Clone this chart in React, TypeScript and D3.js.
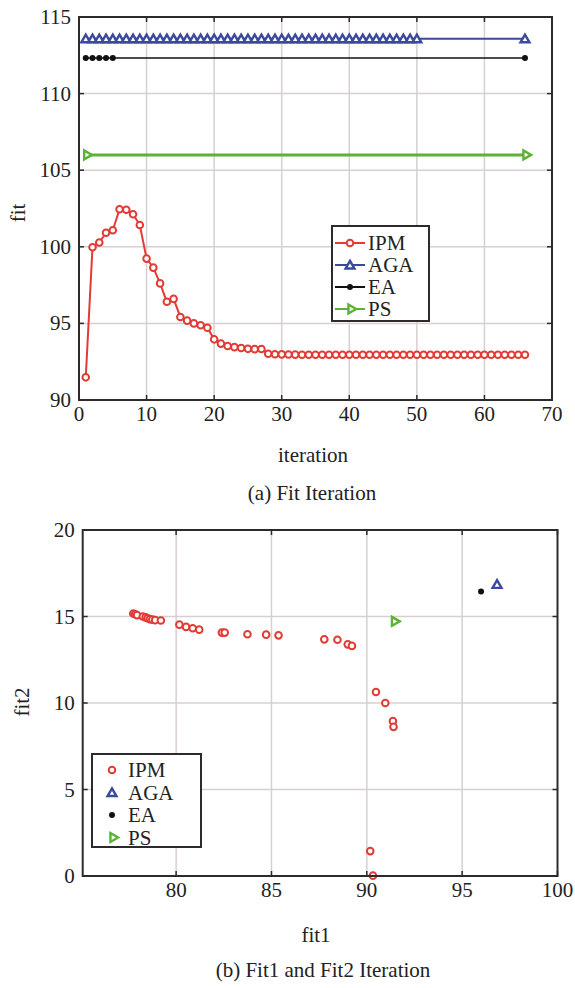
import React, { useEffect, useRef } from 'react';
import * as d3 from 'd3';

// (a) fit per iteration
const ipmFit = [
  91.48, 99.97, 100.28, 100.92, 101.08, 102.45, 102.42, 102.12, 101.42, 99.23,
  98.64, 97.61, 96.41, 96.6, 95.42, 95.18, 95.0, 94.88, 94.72, 93.96,
  93.68, 93.52, 93.45, 93.39, 93.34, 93.32, 93.33, 93.02, 92.99, 92.98,
  92.97, 92.96, 92.95, 92.95, 92.95, 92.95, 92.95, 92.95, 92.95, 92.95,
  92.95, 92.95, 92.95, 92.95, 92.95, 92.95, 92.95, 92.95, 92.95, 92.95,
  92.95, 92.95, 92.95, 92.95, 92.95, 92.95, 92.95, 92.95, 92.95, 92.95,
  92.95, 92.95, 92.95, 92.95, 92.95, 92.95
];
const agaFit = 113.58;
const eaFit = 112.32;
const psFit = 106.0;
const lastIteration = 66;
const agaMarkedUntil = 50; // AGA markers at every iteration up to here, then only the last
const eaMarkedUntil = 5;
const psMarkedUntil = 1;

const topXTicks = [0, 10, 20, 30, 40, 50, 60, 70];
const topYTicks = [90, 95, 100, 105, 110, 115];

// (b) fit1 vs fit2
const ipmFit1 = [77.75, 77.85, 77.95, 78.25, 78.4, 78.5, 78.62, 78.75, 78.9, 79.2,
  80.17, 80.52, 80.87, 81.21, 82.4, 82.55, 83.74, 84.72, 85.37, 87.77,
  88.46, 89.0, 89.22, 90.48, 90.97, 91.37, 91.4, 90.18, 90.32];
const ipmFit2 = [15.17, 15.13, 15.08, 15.0, 14.95, 14.9, 14.85, 14.82, 14.79, 14.77,
  14.53, 14.4, 14.32, 14.24, 14.07, 14.07, 13.97, 13.95, 13.91, 13.68,
  13.66, 13.39, 13.3, 10.64, 10.0, 8.95, 8.62, 1.44, 0.02];
const agaPoint = [96.83, 16.86];
const eaPoint = [95.99, 16.45];
const psPoint = [91.4, 14.72];

const botXTicks = [80, 85, 90, 95, 100];
const botYTicks = [0, 5, 10, 15, 20];

const legendNames = ['IPM', 'AGA', 'EA', 'PS'];

const RED = '#e23b35';
const BLUE = '#3b4a9c';
const BLACK = '#111';
const GREEN = '#5bb234';
const AXIS = '#2e2a2a';
const GRID = '#d8d0d0';
const FONT = '"Liberation Serif", "Times New Roman", serif';
const FS = 21;

const tri = d3.symbol().type(d3.symbolTriangle).size(34)();

export default function App() {
  const svgRef = useRef<SVGSVGElement>(null);

  useEffect(() => {
    const svg = d3.select(svgRef.current);
    svg.selectAll('*').remove();

    const drawFrame = (g, x, y, xTicks, yTicks) => {
      const [x0, x1] = x.range();
      const [y0, y1] = y.range();
      // grid
      g.selectAll('.gx').data(xTicks.filter(t => x(t) > x0 + 1 && x(t) < x1 - 1)).enter()
        .append('line').attr('x1', d => x(d)).attr('x2', d => x(d))
        .attr('y1', y0).attr('y2', y1).attr('stroke', GRID).attr('stroke-width', 1.5);
      g.selectAll('.gy').data(yTicks.filter(t => y(t) < y0 - 1 && y(t) > y1 + 1)).enter()
        .append('line').attr('y1', d => y(d)).attr('y2', d => y(d))
        .attr('x1', x0).attr('x2', x1).attr('stroke', GRID).attr('stroke-width', 1.5);
      // ticks, inside on all four sides
      xTicks.forEach(t => {
        g.append('line').attr('x1', x(t)).attr('x2', x(t)).attr('y1', y0).attr('y2', y0 - 5)
          .attr('stroke', AXIS).attr('stroke-width', 1.5);
        g.append('line').attr('x1', x(t)).attr('x2', x(t)).attr('y1', y1).attr('y2', y1 + 5)
          .attr('stroke', AXIS).attr('stroke-width', 1.5);
        g.append('text').attr('x', x(t)).attr('y', y0 + 21).attr('text-anchor', 'middle')
          .attr('font-family', FONT).attr('font-size', FS).attr('fill', '#222').text(t);
      });
      yTicks.forEach(t => {
        g.append('line').attr('x1', x0).attr('x2', x0 + 5).attr('y1', y(t)).attr('y2', y(t))
          .attr('stroke', AXIS).attr('stroke-width', 1.5);
        g.append('line').attr('x1', x1).attr('x2', x1 - 5).attr('y1', y(t)).attr('y2', y(t))
          .attr('stroke', AXIS).attr('stroke-width', 1.5);
        g.append('text').attr('x', x0 - 8).attr('y', y(t) + 7).attr('text-anchor', 'end')
          .attr('font-family', FONT).attr('font-size', FS).attr('fill', '#222').text(t);
      });
    };

    const drawBox = (g, x, y) => {
      const [x0, x1] = x.range();
      const [y0, y1] = y.range();
      g.append('rect').attr('x', x0).attr('y', y1).attr('width', x1 - x0).attr('height', y0 - y1)
        .attr('fill', 'none').attr('stroke', AXIS).attr('stroke-width', 2);
    };

    const label = (txt, x, y, rotate = false) => {
      const t = svg.append('text').attr('font-family', FONT).attr('font-size', FS)
        .attr('fill', '#222').attr('text-anchor', 'middle').text(txt);
      if (rotate) t.attr('transform', `translate(${x},${y}) rotate(-90)`);
      else t.attr('x', x).attr('y', y);
    };

    const marker = (g, name, cx, cy) => {
      if (name === 'IPM') {
        g.append('circle').attr('cx', cx).attr('cy', cy).attr('r', 3.3)
          .attr('fill', '#fff').attr('stroke', RED).attr('stroke-width', 2);
      } else if (name === 'AGA') {
        g.append('path').attr('d', tri).attr('transform', `translate(${cx},${cy + 1})`)
          .attr('fill', '#fff').attr('stroke', BLUE).attr('stroke-width', 2.4);
      } else if (name === 'EA') {
        g.append('circle').attr('cx', cx).attr('cy', cy).attr('r', 3).attr('fill', BLACK);
      } else {
        g.append('path').attr('d', tri).attr('transform', `translate(${cx + 1},${cy}) rotate(90)`)
          .attr('fill', '#fff').attr('stroke', GREEN).attr('stroke-width', 2.4);
      }
    };

    // ---------- (a) ----------
    const xA = d3.scaleLinear().domain([0, 70]).range([79, 552]);
    const yA = d3.scaleLinear().domain([90, 115]).range([400, 17]);
    const gA = svg.append('g');
    drawFrame(gA, xA, yA, topXTicks, topYTicks);

    const flat = (value, color, width, name, markedUntil) => {
      gA.append('line').attr('x1', xA(1)).attr('x2', xA(lastIteration))
        .attr('y1', yA(value)).attr('y2', yA(value)).attr('stroke', color).attr('stroke-width', width);
      const its = d3.range(1, markedUntil + 1).concat([lastIteration]);
      its.forEach(it => marker(gA, name, xA(it), yA(value)));
    };
    flat(psFit, GREEN, 3, 'PS', psMarkedUntil);
    flat(eaFit, BLACK, 1.5, 'EA', eaMarkedUntil);
    flat(agaFit, BLUE, 2, 'AGA', agaMarkedUntil);

    const line = d3.line<number>().x((d, i) => xA(i + 1)).y(d => yA(d));
    gA.append('path').datum(ipmFit).attr('d', line).attr('fill', 'none')
      .attr('stroke', RED).attr('stroke-width', 2);
    ipmFit.forEach((v, i) => marker(gA, 'IPM', xA(i + 1), yA(v)));
    drawBox(gA, xA, yA);

    // legend (a)
    const lgA = svg.append('g');
    lgA.append('rect').attr('x', 332).attr('y', 226).attr('width', 97).attr('height', 95)
      .attr('fill', '#fff').attr('stroke', AXIS).attr('stroke-width', 2);
    const legendColors = [RED, BLUE, BLACK, GREEN];
    legendNames.forEach((n, i) => {
      const cy = 243 + i * 22;
      lgA.append('line').attr('x1', 335).attr('x2', 365).attr('y1', cy).attr('y2', cy)
        .attr('stroke', legendColors[i]).attr('stroke-width', 2);
      marker(lgA, n, 350, cy);
      lgA.append('text').attr('x', 368).attr('y', cy + 7).attr('font-family', FONT)
        .attr('font-size', FS).attr('fill', '#222').text(n);
    });

    label('iteration', 313, 462);
    label('fit', 25, 213, true);
    label('(a) Fit Iteration', 312, 500);

    // ---------- (b) ----------
    const xB = d3.scaleLinear().domain([75.1, 100]).range([82.7, 557.5]);
    const yB = d3.scaleLinear().domain([0, 20]).range([876, 530]);
    const gB = svg.append('g');
    drawFrame(gB, xB, yB, botXTicks, botYTicks);
    ipmFit1.forEach((v, i) => marker(gB, 'IPM', xB(v), yB(ipmFit2[i])));
    marker(gB, 'AGA', xB(agaPoint[0]), yB(agaPoint[1]));
    marker(gB, 'EA', xB(eaPoint[0]), yB(eaPoint[1]));
    marker(gB, 'PS', xB(psPoint[0]), yB(psPoint[1]));
    drawBox(gB, xB, yB);

    const lgB = svg.append('g');
    lgB.append('rect').attr('x', 92).attr('y', 754).attr('width', 109).attr('height', 93)
      .attr('fill', '#fff').attr('stroke', AXIS).attr('stroke-width', 2);
    legendNames.forEach((n, i) => {
      const cy = 770 + i * 22.5;
      marker(lgB, n, 112, cy);
      lgB.append('text').attr('x', 128).attr('y', cy + 7).attr('font-family', FONT)
        .attr('font-size', FS).attr('fill', '#222').text(n);
    });

    label('fit1', 316, 942);
    label('fit2', 29, 702, true);
    label('(b) Fit1 and Fit2 Iteration', 323, 977);
  }, []);

  return (
    <svg ref={svgRef} width={575} height={988}
      style={{ position: 'absolute', left: 0, top: 0, background: '#fff' }} />
  );
}
